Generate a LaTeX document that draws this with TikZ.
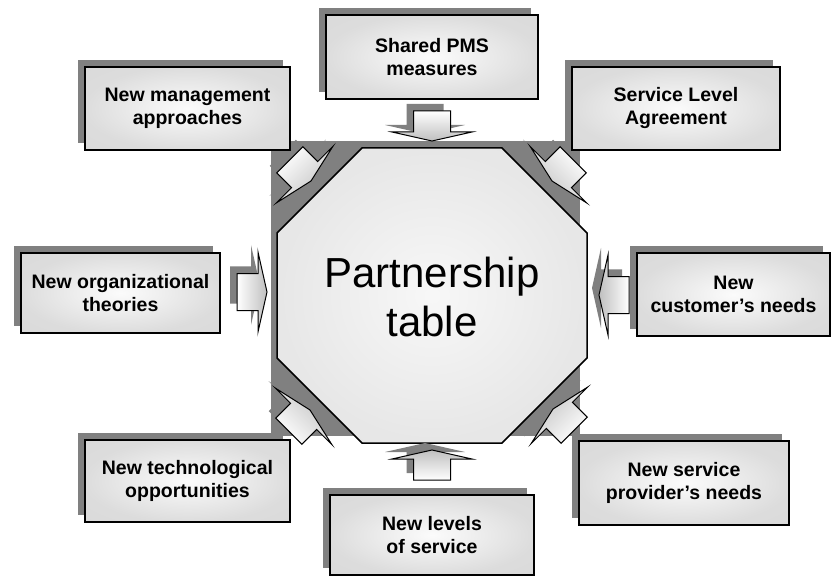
\documentclass[tikz,border=0pt]{standalone}
\usepackage{fontspec}
\setmainfont{Liberation Sans}
\usetikzlibrary{calc,shadows}

\definecolor{shadowgray}{gray}{0.5}
\pgfdeclareradialshading{boxshade}{\pgfpoint{0bp}{0bp}}{color(0bp)=(gray!3); color(25bp)=(gray!27); color(50bp)=(gray!32)}
\pgfdeclareradialshading{tableshade}{\pgfpoint{0bp}{0bp}}{color(0bp)=(gray!6); color(25bp)=(gray!19); color(50bp)=(gray!22)}

% block arrow pointing along +x with its tip at the origin
\tikzset{
  arrowoutline/.style={insert path={(0,0) -- (-9,40) -- (-9,18.5) -- (-30,18.5) -- (-30,-18.5) -- (-9,-18.5) -- (-9,-40) -- cycle}},
  infobox/.style={draw=black, line width=1.3pt, shade, shading=boxshade,
    font=\bfseries\fontsize{19.5}{23}\selectfont, align=center, inner sep=0pt,
    general shadow={shadow xshift=-7pt, shadow yshift=7pt, fill=shadowgray}},
  arrowline/.style={draw=black, line width=1pt, line join=miter}
}

\newcommand\blockarrow[2]{%
  \fill[shadowgray, shift={($(#1)+(-7,-7)$)}, rotate=#2, arrowoutline];
  \pgfmathsetmacro\shadeang{#2+90}%
  \shade[arrowline, top color=white, bottom color=gray!50, shading angle=\shadeang,
         shift={(#1)}, rotate=#2, arrowoutline];
}

\begin{document}
\begin{tikzpicture}[x=1pt,y=-1pt]
\useasboundingbox (0,0) rectangle (832,577);

% table: shadow square and octagon
\fill[shadowgray] (271,141) rectangle (580,436);
\shade[shading=tableshade, draw=black, line width=1.5pt, line join=miter]
  (362,148) -- (502,148) -- (587,233) -- (587,358) -- (502,443) -- (362,443) -- (277,358) -- (277,233) -- cycle;
\node[font=\fontsize{42}{49}\selectfont, align=center] (table) at (432,297) {Partnership\\table};

% arrow tips
\coordinate (tipTL) at (311,181);
\coordinate (tipTR) at (552,181);
\coordinate (tipBR) at (553,409);
\coordinate (tipBL) at (310,410);
\coordinate (tipT) at (432,141);
\coordinate (tipB) at (432,450);
\coordinate (tipL) at (267,292);
\coordinate (tipR) at (599,295);

% corner arrows
\blockarrow{tipTL}{-45}
\blockarrow{tipTR}{-135}
\blockarrow{tipBR}{135}
\blockarrow{tipBL}{45}

% surrounding boxes
\node[infobox, minimum width=212pt, minimum height=84pt] (pms) at (432,57) {Shared PMS\\measures};
\node[infobox, minimum width=205pt, minimum height=83pt] (mgmt) at (187.5,108.5) {New management\\approaches};
\node[infobox, minimum width=208pt, minimum height=83pt] (sla) at (676,108.5) {Service Level\\Agreement};
\node[infobox, minimum width=199pt, minimum height=80pt] (org) at (120.5,293) {New organizational\\theories};
\node[infobox, minimum width=193pt, minimum height=83pt] (cust) at (733.5,294.5) {New\\customer’s needs};
\node[infobox, minimum width=205pt, minimum height=82pt] (tech) at (187.5,481) {New technological\\opportunities};
\node[infobox, minimum width=204pt, minimum height=80pt] (levels) at (432,535) {New levels\\of service};
\node[infobox, minimum width=210pt, minimum height=84pt] (prov) at (684,483) {New service\\provider’s needs};

% side arrows
\blockarrow{tipT}{-90}
\blockarrow{tipB}{90}
\blockarrow{tipL}{0}
\blockarrow{tipR}{180}
\end{tikzpicture}
\end{document}
